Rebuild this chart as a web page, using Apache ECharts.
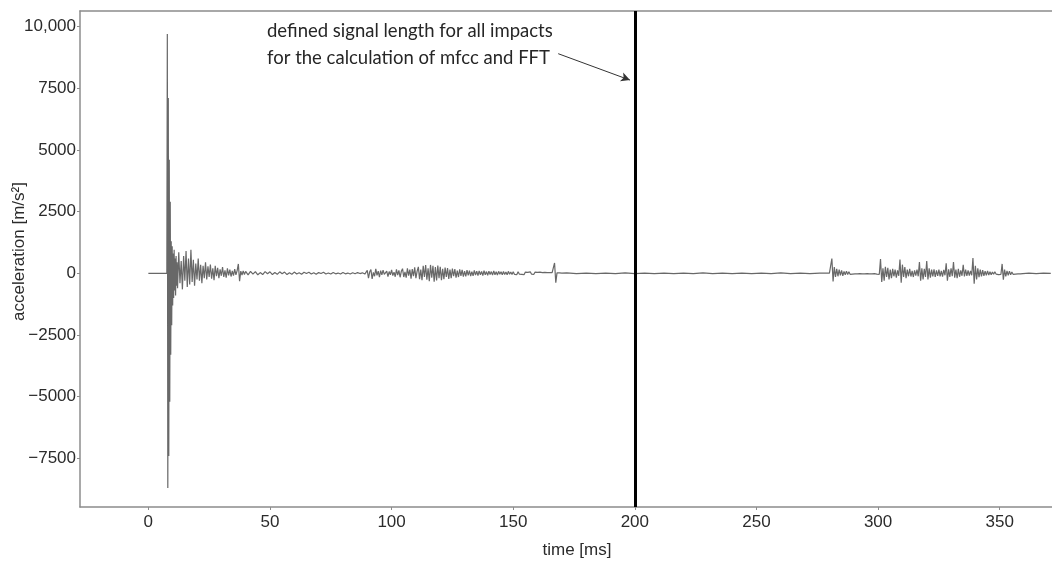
<!DOCTYPE html>
<html>
<head>
<meta charset="utf-8">
<script src="https://cdn.jsdelivr.net/npm/echarts@6/dist/echarts.min.js"></script>
<style>
  html, body { margin: 0; padding: 0; background: #fff; }
  #chart { width: 1052px; height: 563px; }
</style>
</head>
<body>
<div id="chart"></div>
<script>
const preTime = [0, 7.6]
const preAccel = [0, 0]

const impactStart = 7.8, impactStep = 0.2
const impactAccel = [9700, -8700, 7100, -7400, 4600, -5200, 2900, -3300, 1300, -2100,
  1100, -1300, 800, -1000, 950, -700, 600, -900, 700, -500, 450]

const decayStart = 12.0, decayStep = 0.5
const decayAccel = [-600, 850, -400, 500, -650, 700, -300, 900, -550, 600,
  -450, 950, -350, 550, -500, 400, -250, 600, -300, 350,
  -400, 300, -200, 450, -250, 280, -150, 350, -220, 200,
  -280, 300, -120, 220, -200, 160, -100, 250, -150, 120,
  -180, 200, -80, 150, -130, 100, -90, 170, -60, 110,
  380, -320, 90, -70, 100, -50, 80]

const quietStart = 41, quietStep = 1
const quietAccel = [-60, 80, -30, 70, -60, 30, -50, 70, -20, 60,
  -50, 30, -40, 60, -20, 50, -50, 20, -40, 50,
  -30, 20, -40, 40, -10, 40, -30, 20, -40, 30,
  -10, 40, -30, 10, -30, 30, -20, 10, -30, 30,
  -20, 10, -30, 20, -20, 30, -10, 20, -30]

const burstStart = 90, burstStep = 0.5
const burstAccel = [120, -200, 60, 150, -230, 40, -120, 180, -80, 90,
  -150, 110, -60, 130, -40, -110, 90, -130, 70, -60,
  140, -90, 50, -140, 160, -70, 120, -160, 80, 190,
  -150, 60, -180, 200, -90, 150, -220, 170, -120, 240,
  -200, 90, 260, -240, 150, -280, 300, -150, 330, -260,
  200, -320, 340, -180, 300, -340, 250, -290, 310, -200,
  260, -280, 180, -240, 230, -150, 210, -230, 150, -200,
  190, -120, 170, -180, 110, -150, 160, -100, 140, -130,
  90, -120, 130, -80, 110, -110, 70, -100, 120, -70,
  90, -90, 100, -60, 80, -90, 110, -60, 70, -80,
  90, -50, 70, -70, 100, -60, 60, -70, 80, -40,
  60, -60, 70, -50, 50, -60, 80, -40, 50, -50,
  60, -40, 40, -50, 60, -30, 50, -40, 40, -50,
  50, -30, 40, -40, 60, -30, 30, -40, 50, -30,
  40, -30, 50, -30, 30, -40, 40, -20, 30, -30,
  30, -20, 30, -20, 420, -380, 20, -20, 20, -20,
  10]

const silentStart = 172, silentStep = 4
const silentAccel = [15, -10, 10, -15, 10, -10, 15, -10, 10, -10,
  10, -15, 10, -10, 15, -10, 10, -10, 10, -15,
  10, -10, 15, -10, 10, -10, 10]

const tailStart = 280, tailStep = 0.5
const tailAccel = [10, -20, 600, -330, 250, -150, 180, -120, 150, -80,
  120, -100, 80, -60, 90, -50, 60, -40, 40, -30,
  30, -20, 20, -20, 20, -10, 20, -20, 10, -20,
  20, -10, 20, -20, 10, -20, 20, -10, 20, -30,
  30, -40, 580, -350, 200, -300, 260, -150, 220, -250,
  150, -200, 180, -120, 150, -180, 120, -100, 560, -380,
  350, -150, 250, -200, 150, -120, 180, -130, 100, -150,
  120, -90, 150, -120, 460, -300, 200, -250, 180, -150,
  500, -250, 200, -180, 150, -120, 160, -150, 120, -100,
  150, -120, 100, -130, 140, -80, 410, -300, 160, -150,
  200, -120, 460, -180, 150, -200, 180, -140, 120, -100,
  340, -130, 150, -100, 120, -90, 100, -80, 620, -420,
  300, -250, 200, -160, 150, -120, 130, -100, 90, -80,
  100, -70, 60, -60, 50, -40, 60, -30, 40, -50,
  30, -40, 380, -260, 150, -120, 100, -80, 90, -60,
  50, -40, 40, -30, 30, -20, 20, -20, 20, -10,
  10]

const endStart = 362, endStep = 3
const endAccel = [10, -10, 10, 0]

const xTicks = [0, 50, 100, 150, 200, 250, 300, 350]
const yTicks = [-7500, -5000, -2500, 0, 2500, 5000, 7500, 10000]
const cutoffTime = 200
const arrowFrom = [168.5, 8900]
const arrowTo = [198, 7830]

let seg = (t0, dt, vals) => vals.map((v, i) => [t0 + i * dt, v])

const signal = [].concat(
  preTime.map((t, i) => [t, preAccel[i]]),
  seg(impactStart, impactStep, impactAccel),
  seg(decayStart, decayStep, decayAccel),
  seg(quietStart, quietStep, quietAccel),
  seg(burstStart, burstStep, burstAccel),
  seg(silentStart, silentStep, silentAccel),
  seg(tailStart, tailStep, tailAccel),
  seg(endStart, endStep, endAccel)
)

const axisGrey = '#8c8c8c'
const textGrey = '#2b2b2b'
const font = '"Liberation Sans", Arial, sans-serif'

var Chart = echarts.init(document.getElementById('chart'))
var option = {
  animation: false,
  grid: {
    left: 80,
    top: 11,
    right: 0,
    bottom: 56,
    containLabel: false,
    outerBoundsMode: 'none'
  },
  xAxis: [
    {
      type: 'value',
      min: -28.1,
      max: 371.5,
      name: 'time [ms]',
      nameLocation: 'middle',
      nameGap: 35,
      nameMoveOverlap: false,
      nameTextStyle: { fontSize: 17, color: textGrey, fontFamily: font, padding: [0, 0, 0, 22] },
      axisLine: { show: true, onZero: false, lineStyle: { color: axisGrey, width: 1.5 } },
      axisTick: { show: true, length: 3, lineStyle: { color: axisGrey }, customValues: xTicks },
      axisLabel: { fontSize: 17, color: textGrey, fontFamily: font, margin: 7, customValues: xTicks },
      splitLine: { show: false }
    },
    {
      type: 'value',
      position: 'top',
      min: -28.1,
      max: 371.5,
      axisLine: { show: true, onZero: false, lineStyle: { color: axisGrey, width: 1.5 } },
      axisTick: { show: false },
      axisLabel: { show: false },
      splitLine: { show: false }
    }
  ],
  yAxis: {
    type: 'value',
    min: -9470,
    max: 10630,
    name: 'acceleration [m/s²]',
    nameLocation: 'middle',
    nameGap: 52,
    nameMoveOverlap: false,
    nameTextStyle: { fontSize: 17, color: textGrey, fontFamily: font, padding: [0, 0, 0, 15] },
    axisLine: { show: true, onZero: false, lineStyle: { color: axisGrey, width: 1.5 } },
    axisTick: { show: true, length: 3, lineStyle: { color: axisGrey }, customValues: yTicks },
    axisLabel: {
      fontSize: 17,
      color: textGrey,
      fontFamily: font,
      margin: 4,
      customValues: yTicks,
      formatter: (v) => v === 10000 ? '10,000' : String(v).replace('-', '\u2212')
    },
    splitLine: { show: false }
  },
  series: [
    {
      type: 'line',
      data: signal,
      showSymbol: false,
      sampling: 'none',
      lineStyle: { color: '#686868', width: 1.2 },
      silent: true,
      markLine: {
        silent: true,
        symbol: ['none', 'none'],
        label: { show: false },
        lineStyle: { color: '#000', width: 3, type: 'solid' },
        data: [{ xAxis: cutoffTime }]
      }
    },
    {
      type: 'line',
      data: [],
      silent: true,
      markLine: {
        silent: true,
        symbol: ['none', 'arrow'],
        symbolSize: [7, 9],
        label: { show: false },
        lineStyle: { color: '#333', width: 1, type: 'solid' },
        data: [[{ coord: arrowFrom }, { coord: arrowTo }]]
      }
    }
  ],
  graphic: [
    {
      type: 'text',
      left: 267,
      top: 22,
      style: { text: 'defined signal length for all impacts', fill: '#262626', font: '18.5px Lato, "Open Sans", sans-serif' }
    },
    {
      type: 'text',
      left: 267,
      top: 49,
      style: { text: 'for the calculation of mfcc and FFT', fill: '#262626', font: '18.5px Lato, "Open Sans", sans-serif' }
    }
  ]
}
Chart.setOption(option)
</script>
</body>
</html>
